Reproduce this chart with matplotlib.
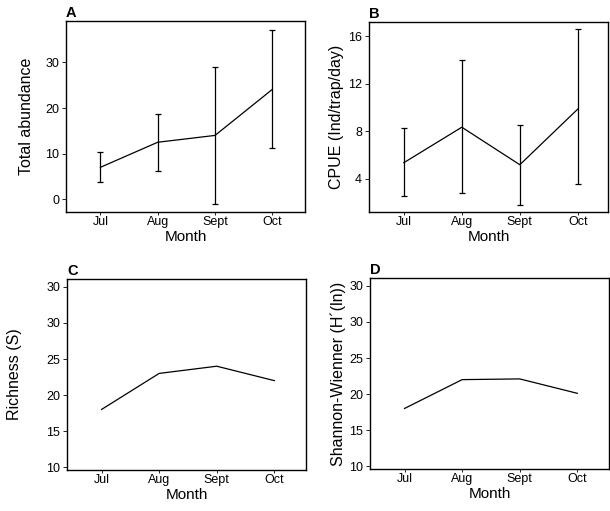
import numpy as np
import matplotlib.pyplot as plt

plt.rcParams['font.family'] = ['Liberation Sans', 'DejaVu Sans']

# Data
months = ['Jul', 'Aug', 'Sept', 'Oct']

abund_mean = [7.0, 12.5, 14.0, 24.1]
abund_hi = [10.3, 18.8, 28.9, 37.1]
abund_lo = [3.7, 6.1, -1.1, 11.2]

cpue_mean = [5.35, 8.34, 5.18, 9.87]
cpue_hi = [8.29, 13.97, 8.51, 16.57]
cpue_lo = [2.51, 2.79, 1.75, 3.53]

richness = [18.0, 23.0, 24.0, 22.0]
shannon = [18.0, 22.0, 22.1, 20.1]

div_ticks = [10, 15, 20, 25, 30, 35]
div_labels = ['10', '15', '20', '25', '30', '30']

fig = plt.figure(figsize=(6.1, 5.11), dpi=100)
W, H = 610, 511


def make_ax(l, t, r, b):
    return fig.add_axes([l / W, 1 - b / H, (r - l) / W, (b - t) / H])


def style(ax, letter, ylabel, pad):
    x = np.arange(len(months))
    ax.set_xticks(x)
    ax.set_xticklabels(months, fontsize=9)
    ax.tick_params(axis='x', length=2, width=0.6, pad=1)
    ax.tick_params(axis='y', length=3, width=0.6, labelsize=9, pad=2)
    ax.set_xlabel('Month', fontsize=11, labelpad=1)
    ax.set_ylabel(ylabel, fontsize=11.5, labelpad=pad)
    for s in ax.spines.values():
        s.set_linewidth(1.0)
    ax.text(0.0, 1.005, letter, transform=ax.transAxes, fontsize=10.5,
            fontweight='bold', ha='left', va='bottom')


x = np.arange(len(months))

# A
ax = make_ax(66, 21, 305, 212)
m = np.array(abund_mean)
err = [m - np.array(abund_lo), np.array(abund_hi) - m]
ax.errorbar(x, m, yerr=err, color='black', lw=0.9, elinewidth=0.9,
            capsize=2.2, capthick=0.9)
ax.set_xlim(-0.6, 3.57)
ax.set_ylim(-2.8, 39.1)
ax.set_yticks([0, 10, 20, 30])
style(ax, 'A', 'Total abundance', 8)

# B
ax = make_ax(369, 22, 608, 212)
m = np.array(cpue_mean)
err = [m - np.array(cpue_lo), np.array(cpue_hi) - m]
ax.errorbar(x, m, yerr=err, color='black', lw=0.9, elinewidth=0.9,
            capsize=2.2, capthick=0.9)
ax.set_xlim(-0.6, 3.52)
ax.set_ylim(1.2, 17.2)
ax.set_yticks([4, 8, 12, 16])
style(ax, 'B', 'CPUE (Ind/trap/day)', 3)

# C
ax = make_ax(67, 279, 306, 470)
ax.plot(x, richness, color='black', lw=0.9)
ax.set_xlim(-0.6, 3.55)
ax.set_ylim(9.6, 36.1)
ax.set_yticks(div_ticks)
ax.set_yticklabels(div_labels)
style(ax, 'C', 'Richness (S)', 17)

# D
ax = make_ax(370, 278, 609, 469)
ax.plot(x, shannon, color='black', lw=0.9)
ax.set_xlim(-0.6, 3.55)
ax.set_ylim(9.6, 36.1)
ax.set_yticks(div_ticks)
ax.set_yticklabels(div_labels)
style(ax, 'D', 'Shannon-Wienner (H\u00b4(ln))', 2)

fig.savefig('out.png', dpi=100)
